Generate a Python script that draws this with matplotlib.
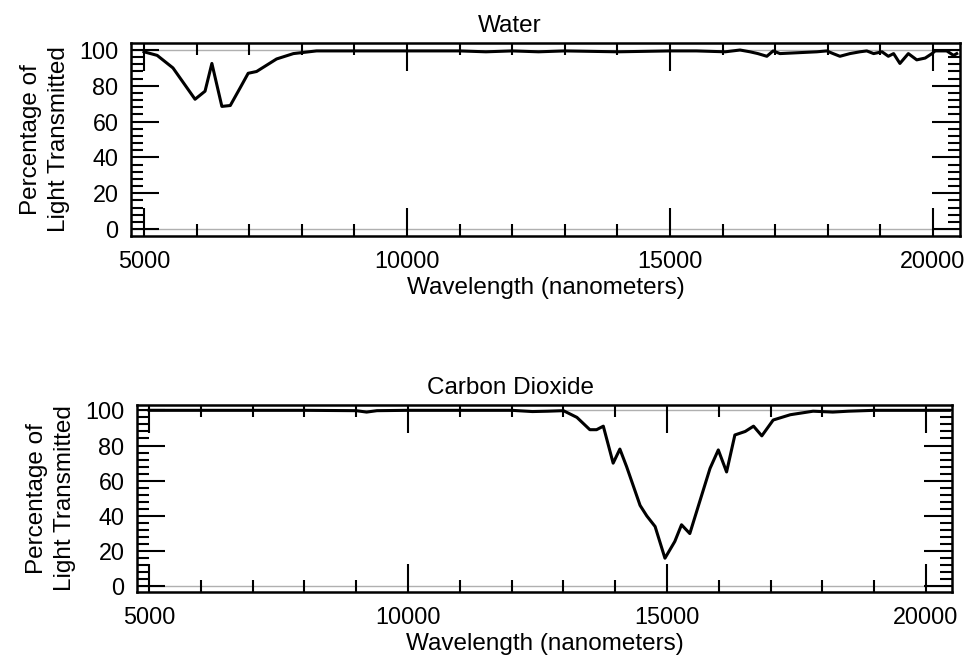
import matplotlib
matplotlib.use("Agg")
import matplotlib.pyplot as plt
from matplotlib.ticker import MultipleLocator

plt.rcParams["font.family"] = ["Liberation Sans", "DejaVu Sans"]

# water transmission spectrum
water_wl = [5000, 5250, 5550, 5970, 6160, 6290, 6480, 6640, 6830, 6980, 7140,
            7330, 7520, 7840, 8280, 9000, 10000, 11000, 11500, 12000, 12500,
            13000, 14000, 15000, 15500, 16050, 16330, 16520, 16670, 16840,
            16960, 17090, 17790, 17980, 18100, 18230, 18420, 18610, 18740,
            18870, 19030, 19150, 19250, 19370, 19530, 19690, 19850, 19980,
            20040, 20260, 20390, 20450]
water_pct = [99, 97, 90, 72.5, 77, 92.5, 68.5, 69, 79, 87, 88,
             91.5, 95, 98, 99.5, 99.5, 99.5, 99.5, 99, 99.5, 99,
             99.5, 99, 99.5, 99.5, 99, 100, 99, 98, 96.5,
             99.5, 98, 99, 99.5, 98, 96.5, 98, 99, 99.5,
             98, 99, 96.5, 98, 92.5, 98, 94.5, 95.5, 98,
             99.5, 99.5, 97, 98]

# carbon dioxide transmission spectrum
co2_wl = [5000, 6000, 7000, 8000, 9000, 9200, 9400, 10000, 11000, 12000,
          12400, 12700, 13000, 13260, 13510, 13640, 13770, 13960, 14090,
          14220, 14480, 14610, 14770, 14960, 15150, 15280, 15440, 15640,
          15830, 15990, 16150, 16310, 16510, 16670, 16830, 17050, 17380,
          17820, 18200, 18500, 19000, 20000, 20450]
co2_pct = [100, 100, 100, 100, 99.8, 99, 99.8, 100, 100, 100,
           99.3, 99.5, 99.8, 96, 89, 89, 91, 70, 78,
           68, 46, 40, 34, 16, 25.5, 35, 30, 49,
           67, 77.5, 65, 86, 88, 91, 85.5, 94.5, 97.5,
           99.5, 99, 99.5, 100, 100, 100]

yticks = [0, 20, 40, 60, 80, 100]
xticks = [5000, 10000, 15000, 20000]

fig = plt.figure(figsize=(9.67, 6.60), dpi=100)
ax1 = fig.add_axes([0.1355, 0.6424, 0.8573, 0.2924])
ax2 = fig.add_axes([0.1417, 0.1030, 0.8428, 0.2833])


def style_panel(ax, title, xlim, ylim, title_x):
    ax.set_xlim(*xlim)
    ax.set_ylim(*ylim)
    ax.axhline(0, color="#b0b0b0", lw=1.0, zorder=1)
    ax.axhline(100, color="#b0b0b0", lw=1.0, zorder=1)
    ax.set_xticks(xticks)
    ax.set_yticks(yticks)
    ax.xaxis.set_minor_locator(MultipleLocator(1000))
    ax.yaxis.set_minor_locator(MultipleLocator(4))
    ax.tick_params(which="both", direction="in", top=True, right=True,
                   labelsize=16.8, width=1.5)
    ax.tick_params(which="major", length=20)
    ax.tick_params(which="minor", length=8.5)
    ax.tick_params(axis="x", pad=10)
    ax.tick_params(axis="y", pad=9)
    for s in ax.spines.values():
        s.set_linewidth(1.8)
    ax.set_title(title, fontsize=17.5, pad=8, x=title_x)
    ax.set_xlabel("Wavelength (nanometers)", fontsize=17.5, labelpad=3)
    ax.set_ylabel("Percentage of\nLight Transmitted", fontsize=17.5,
                  linespacing=1.3, labelpad=7)


ax1.plot(water_wl, water_pct, color="black", lw=2.2, zorder=3)
style_panel(ax1, "Water", (4753, 20513), (-3.9, 103.9), 0.457)

ax2.plot(co2_wl, co2_pct, color="black", lw=2.2, zorder=3)
style_panel(ax2, "Carbon Dioxide", (4768, 20502), (-3.2, 103.0), 0.458)

fig.savefig("out.png", dpi=100)
